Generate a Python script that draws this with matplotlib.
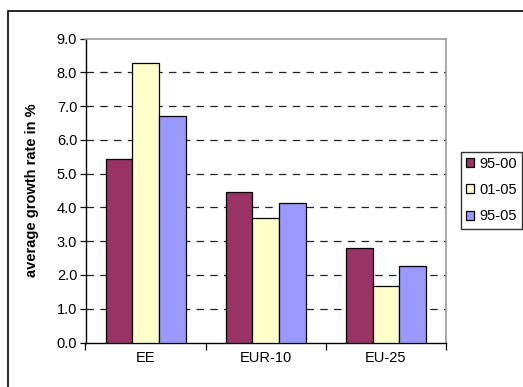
import matplotlib
matplotlib.use("Agg")
import matplotlib.pyplot as plt
from matplotlib.patches import Rectangle
import numpy as np

plt.rcParams['font.family'] = ['Liberation Sans', 'DejaVu Sans']

regions = ["EE", "EUR-10", "EU-25"]
periods = ["95-00", "01-05", "95-05"]
growth_95_00 = [5.42, 4.45, 2.80]
growth_01_05 = [8.28, 3.69, 1.68]
growth_95_05 = [6.70, 4.14, 2.27]
colors = ["#993366", "#FFFFCC", "#9999FF"]
yticks = [0.0, 1.0, 2.0, 3.0, 4.0, 5.0, 6.0, 7.0, 8.0, 9.0]

W, H = 523, 387
fs = 10.5
fig = plt.figure(figsize=(W / 100, H / 100), dpi=100)
fig.patch.set_facecolor("white")

# outer chart frame
fig.patches.append(Rectangle((8 / W, -0.05), 1.2, (H - 11) / H + 0.05,
                             transform=fig.transFigure, fill=False,
                             edgecolor="black", linewidth=1.2))

left, right, top, bottom = 85.5, 446, 38.5, 342.5
ax = fig.add_axes([left / W, 1 - bottom / H, (right - left) / W, (bottom - top) / H])

x = np.arange(len(regions))
bw = 0.222
series = [growth_95_00, growth_01_05, growth_95_05]
for i, (vals, c, lab) in enumerate(zip(series, colors, periods)):
    ax.bar(x + (i - 1) * bw, vals, width=bw, color=c, edgecolor="black",
           linewidth=0.9, label=lab, zorder=3)

ax.set_xlim(-0.5, len(regions) - 0.5)
ax.set_ylim(0, 9)
ax.set_yticks(yticks)
ax.set_yticklabels([f"{v:.1f}" for v in yticks], fontsize=fs)
ax.set_xticks(x)
ax.set_xticklabels(regions, fontsize=fs)
ax.set_xticks(np.arange(len(regions) + 1) - 0.5, minor=True)
ax.tick_params(axis="x", which="major", length=0, pad=6)
ax.tick_params(axis="x", which="minor", length=5, direction="out", width=0.9)
ax.tick_params(axis="y", length=4, direction="out", width=0.9, pad=2)

for v in yticks[1:-1]:
    ax.axhline(v, color="#222222", linestyle=(0, (6, 5)), linewidth=0.9, zorder=1)

for s in ["left", "bottom"]:
    ax.spines[s].set_color("black")
    ax.spines[s].set_linewidth(1.0)
for s in ["top", "right"]:
    ax.spines[s].set_color("#9a9a9a")
    ax.spines[s].set_linewidth(1.2)

ax.set_ylabel("average growth rate in %", fontsize=fs, fontweight="bold", labelpad=13)

leg = fig.legend(loc="upper left", bbox_to_anchor=(460.5 / W, 1 - 151.5 / H),
                 frameon=True, fancybox=False, fontsize=fs,
                 handlelength=0.6, handleheight=0.6, handletextpad=0.35,
                 borderpad=0.35, labelspacing=0.85, borderaxespad=0)
leg.get_frame().set_edgecolor("black")
leg.get_frame().set_linewidth(1.0)

fig.savefig("out.png", dpi=100)
